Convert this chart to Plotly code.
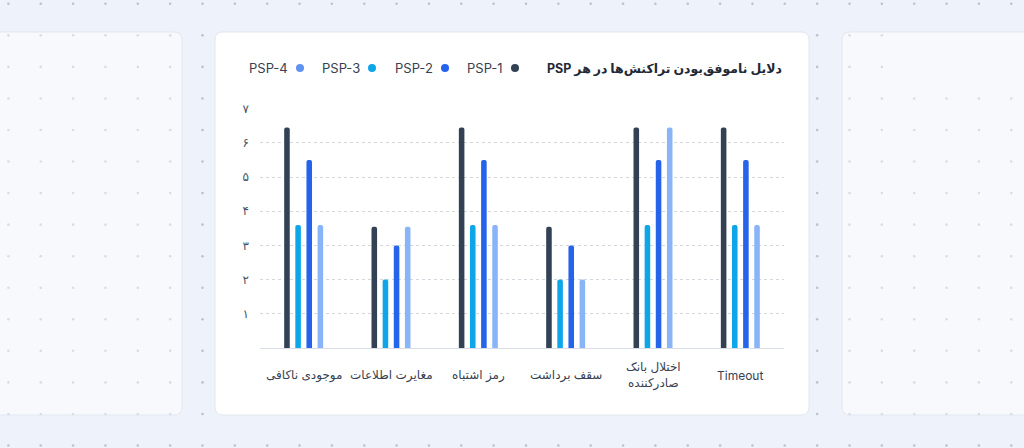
import plotly.graph_objects as go

W, H = 1024, 448

# ---------------- data ----------------
categories = ["موجودی ناکافی", "مغایرت اطلاعات", "رمز اشتباه", "سقف برداشت",
              "اختلال بانک<br>صادرکننده", "Timeout"]
psp1 = [6.45, 3.55, 6.45, 3.55, 6.45, 6.45]
psp3 = [3.6, 2.0, 3.6, 2.0, 3.6, 3.6]
psp2 = [5.5, 3.0, 5.5, 3.0, 5.5, 5.5]
psp4 = [3.6, 3.55, 3.6, 2.0, 6.45, 3.6]
y_tickvals = [1, 2, 3, 4, 5, 6, 7]
y_ticktext = ["۱", "۲", "۳", "۴", "۵", "۶", "۷"]
legend_names = ["PSP-1", "PSP-2", "PSP-3", "PSP-4"]
title_text = "دلایل ناموفق‌بودن تراکنش‌ها در هر PSP"

# ---------------- style ----------------
C1, C2, C3, C4 = "#334155", "#2563eb", "#0ea5e9", "#8ab4f8"
C4_LEG = "#5f93ef"
FONT = "Inter, 'DejaVu Sans', sans-serif"


def px(x):
    return x / W


def py(y):
    return 1 - y / H


def rrect(x0, y0, x1, y1, r=8):
    rx, ry = r / W, r / H
    X0, X1 = px(x0), px(x1)
    Y0, Y1 = py(y0), py(y1)  # Y0 top, Y1 bottom
    return (f"M{X0+rx},{Y0} L{X1-rx},{Y0} Q{X1},{Y0} {X1},{Y0-ry} "
            f"L{X1},{Y1+ry} Q{X1},{Y1} {X1-rx},{Y1} L{X0+rx},{Y1} "
            f"Q{X0},{Y1} {X0},{Y1+ry} L{X0},{Y0-ry} Q{X0},{Y0} {X0+rx},{Y0} Z")


fig = go.Figure()

bar_specs = [("PSP-1", psp1, C1), ("PSP-3", psp3, C3), ("PSP-2", psp2, C2), ("PSP-4", psp4, C4)]
for name, vals, col in bar_specs:
    fig.add_trace(go.Bar(x=categories, y=vals, name=name,
                         marker=dict(color=col, cornerradius=3, line=dict(width=0)),
                         showlegend=False, hoverinfo="skip"))

# background dot grid (decoration, pixel coordinates)
dx, dy, dcol = [], [], []
for i in range(32):
    x = 8.4 + 32.35 * i
    for j in range(15):
        y = 3.8 + 31.55 * j
        if 213 <= x <= 811 and 30 <= y <= 417:
            continue
        if x > 890 and 32 < y < 80:
            continue
        in_card = (32 < y < 415) and (x < 182 or x > 842)
        dx.append(x)
        dy.append(y)
        dcol.append("#d9dde6" if in_card else "#bcc2ce")
fig.add_trace(go.Scatter(x=dx, y=dy, mode="markers", xaxis="x2", yaxis="y2",
                         marker=dict(size=2.6, color=dcol, line=dict(width=0)),
                         showlegend=False, hoverinfo="skip", cliponaxis=False))

# legend dots
leg_x = [515, 445, 372, 300]
leg_c = [C1, C2, C3, C4_LEG]
fig.add_trace(go.Scatter(x=leg_x, y=[68] * 4, mode="markers", xaxis="x2", yaxis="y2",
                         marker=dict(size=8, color=leg_c, line=dict(width=0)),
                         showlegend=False, hoverinfo="skip"))

annotations = []
for name, x in zip(legend_names, leg_x):
    annotations.append(dict(text=name, x=px(x - 10), y=py(68), xref="paper", yref="paper",
                            xanchor="right", yanchor="middle", showarrow=False,
                            font=dict(family=FONT, size=13, color="#374151")))
annotations.append(dict(text="\u202b" + title_text + "\u202c", x=px(784), y=py(68),
                        xref="paper", yref="paper",
                        xanchor="right", yanchor="middle", showarrow=False,
                        font=dict(family=FONT, size=12.5, color="#1f2937", weight="bold")))
for i, c in enumerate(categories):
    annotations.append(dict(text=c, x=i, y=py(375), xref="x", yref="paper",
                            xanchor="center", yanchor="middle", showarrow=False,
                            font=dict(family=FONT, size=12, color="#374151")))

shapes = [
    dict(type="path", path=rrect(-20, 32, 182, 415), xref="paper", yref="paper",
         fillcolor="#f8f9fc", line=dict(color="#e3e7ef", width=1), layer="below"),
    dict(type="path", path=rrect(842, 32, 1044, 415), xref="paper", yref="paper",
         fillcolor="#f8f9fc", line=dict(color="#e3e7ef", width=1), layer="below"),
    dict(type="path", path=rrect(215, 32, 809, 415), xref="paper", yref="paper",
         fillcolor="#ffffff", line=dict(color="#e3e7ef", width=1), layer="below"),
]

fig.update_layout(
    width=W, height=H,
    margin=dict(l=0, r=0, t=0, b=0, pad=0, autoexpand=False),
    paper_bgcolor="#eef2fb",
    plot_bgcolor="rgba(0,0,0,0)",
    barmode="group", bargap=0.49, bargroupgap=0.5,
    showlegend=False,
    font=dict(family=FONT),
    xaxis=dict(domain=[px(260), px(784)], showticklabels=False, showgrid=False,
               showline=True, linecolor="#d9dee7", linewidth=1, ticks="", zeroline=False,
               fixedrange=True, automargin=False),
    yaxis=dict(domain=[py(348), py(108)], range=[0, 7.02], tickvals=y_tickvals, ticktext=y_ticktext,
               showgrid=True, gridcolor="#d3d7de", griddash="dot", gridwidth=1, zeroline=False,
               ticks="", ticklabelstandoff=10, tickfont=dict(family=FONT, size=12, color="#4b5563"),
               fixedrange=True, automargin=False),
    xaxis2=dict(domain=[0, 1], range=[0, W], visible=False, anchor="y2", fixedrange=True,
                automargin=False),
    yaxis2=dict(domain=[0, 1], range=[H, 0], visible=False, anchor="x2", fixedrange=True,
                automargin=False),
    shapes=shapes,
    annotations=annotations,
)

fig.write_html("out.html", config={"displayModeBar": False})
